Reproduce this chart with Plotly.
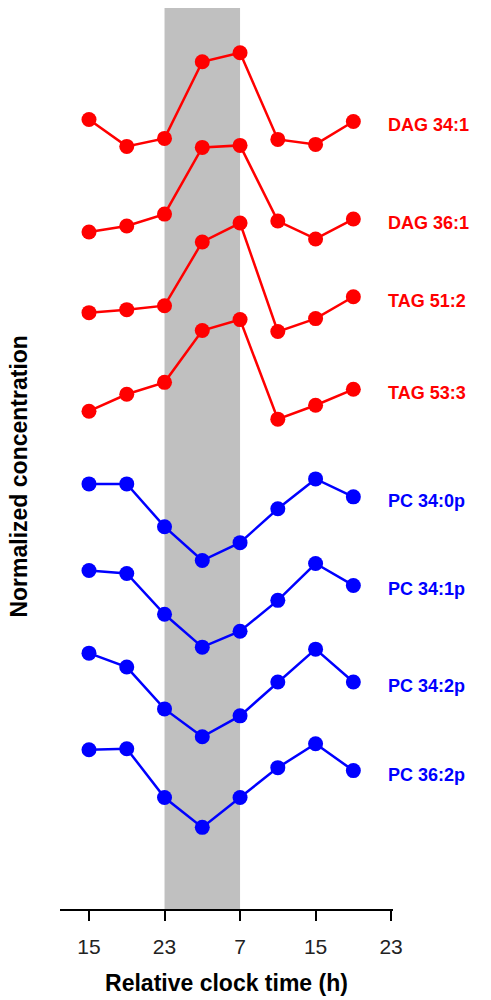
import plotly.graph_objects as go

# Time points (relative clock hours, continuous)
time_h = [15, 19, 23, 27, 31, 35, 39, 43]
tick_vals = [15, 23, 31, 39, 47]
tick_text = ["15", "23", "7", "15", "23"]
dark_start, dark_end = 23, 31

# Normalized concentrations (stacked offsets, arbitrary units)
dag_34_1 = [79.3, 76.6, 77.4, 85.1, 86.0, 77.3, 76.8, 79.1]
dag_36_1 = [68.0, 68.6, 69.8, 76.5, 76.7, 69.1, 67.3, 69.3]
tag_51_2 = [59.9, 60.2, 60.6, 67.0, 68.9, 58.0, 59.3, 61.5]
tag_53_3 = [50.0, 51.7, 52.9, 58.1, 59.2, 49.2, 50.6, 52.2]
pc_34_0p = [42.7, 42.7, 38.4, 35.0, 36.8, 40.2, 43.2, 41.4]
pc_34_1p = [34.0, 33.7, 29.6, 26.3, 27.9, 31.0, 34.7, 32.5]
pc_34_2p = [25.7, 24.3, 20.1, 17.3, 19.4, 22.8, 26.1, 22.8]
pc_36_2p = [16.0, 16.1, 11.2, 8.2, 11.2, 14.2, 16.6, 13.9]

series_names = ["DAG 34:1", "DAG 36:1", "TAG 51:2", "TAG 53:3",
                "PC 34:0p", "PC 34:1p", "PC 34:2p", "PC 36:2p"]
series_values = [dag_34_1, dag_36_1, tag_51_2, tag_53_3,
                 pc_34_0p, pc_34_1p, pc_34_2p, pc_36_2p]
red = "#ff0000"
blue = "#0000ff"
series_colors = [red, red, red, red, blue, blue, blue, blue]

FONT = "Liberation Sans, Arial"

fig = go.Figure()
for name, vals, col in zip(series_names, series_values, series_colors):
    fig.add_trace(go.Scatter(
        x=time_h, y=vals, mode="lines+markers", name=name,
        line=dict(color=col, width=2.5),
        marker=dict(color=col, size=15),
        cliponaxis=False, showlegend=False,
    ))
    fig.add_annotation(
        x=1.0, xref="paper", xshift=-7, y=vals[-1] - 0.4, yref="y",
        text=f"<b>{name}</b>", showarrow=False, xanchor="left",
        font=dict(family=FONT, size=18, color=col),
    )

fig.add_shape(type="rect", xref="x", yref="paper",
              x0=dark_start, x1=dark_end, y0=0, y1=1,
              fillcolor="#c0c0c0", line=dict(width=0), layer="below")

fig.add_annotation(
    x=-0.126, xref="paper", xanchor="center", y=0.48, yref="paper",
    yanchor="middle",
    text="<b>Normalized concentration</b>", showarrow=False, textangle=-90,
    font=dict(family=FONT, size=23, color="#000000"),
)

fig.update_layout(
    width=491, height=1000,
    margin=dict(l=60, r=98, t=8, b=84),
    paper_bgcolor="white", plot_bgcolor="white",
    xaxis=dict(
        range=[11.93, 47.2], tickmode="array", tickvals=tick_vals,
        ticktext=tick_text, showgrid=False, zeroline=False,
        showline=True, linecolor="#000000", linewidth=2,
        ticks="outside", ticklen=10, tickwidth=2, tickcolor="#000000",
        ticklabelstandoff=8,
        tickfont=dict(family=FONT, size=21, color="#222222"),
        title=dict(text="<b>Relative clock time (h)</b>", standoff=18,
                   font=dict(family=FONT, size=23, color="#000000")),
    ),
    yaxis=dict(range=[0, 90.5], visible=False, showgrid=False, zeroline=False),
)

fig.write_html("out.html", config={"displayModeBar": False},
               post_script="document.body.style.margin='0';document.body.style.overflow='hidden';")
